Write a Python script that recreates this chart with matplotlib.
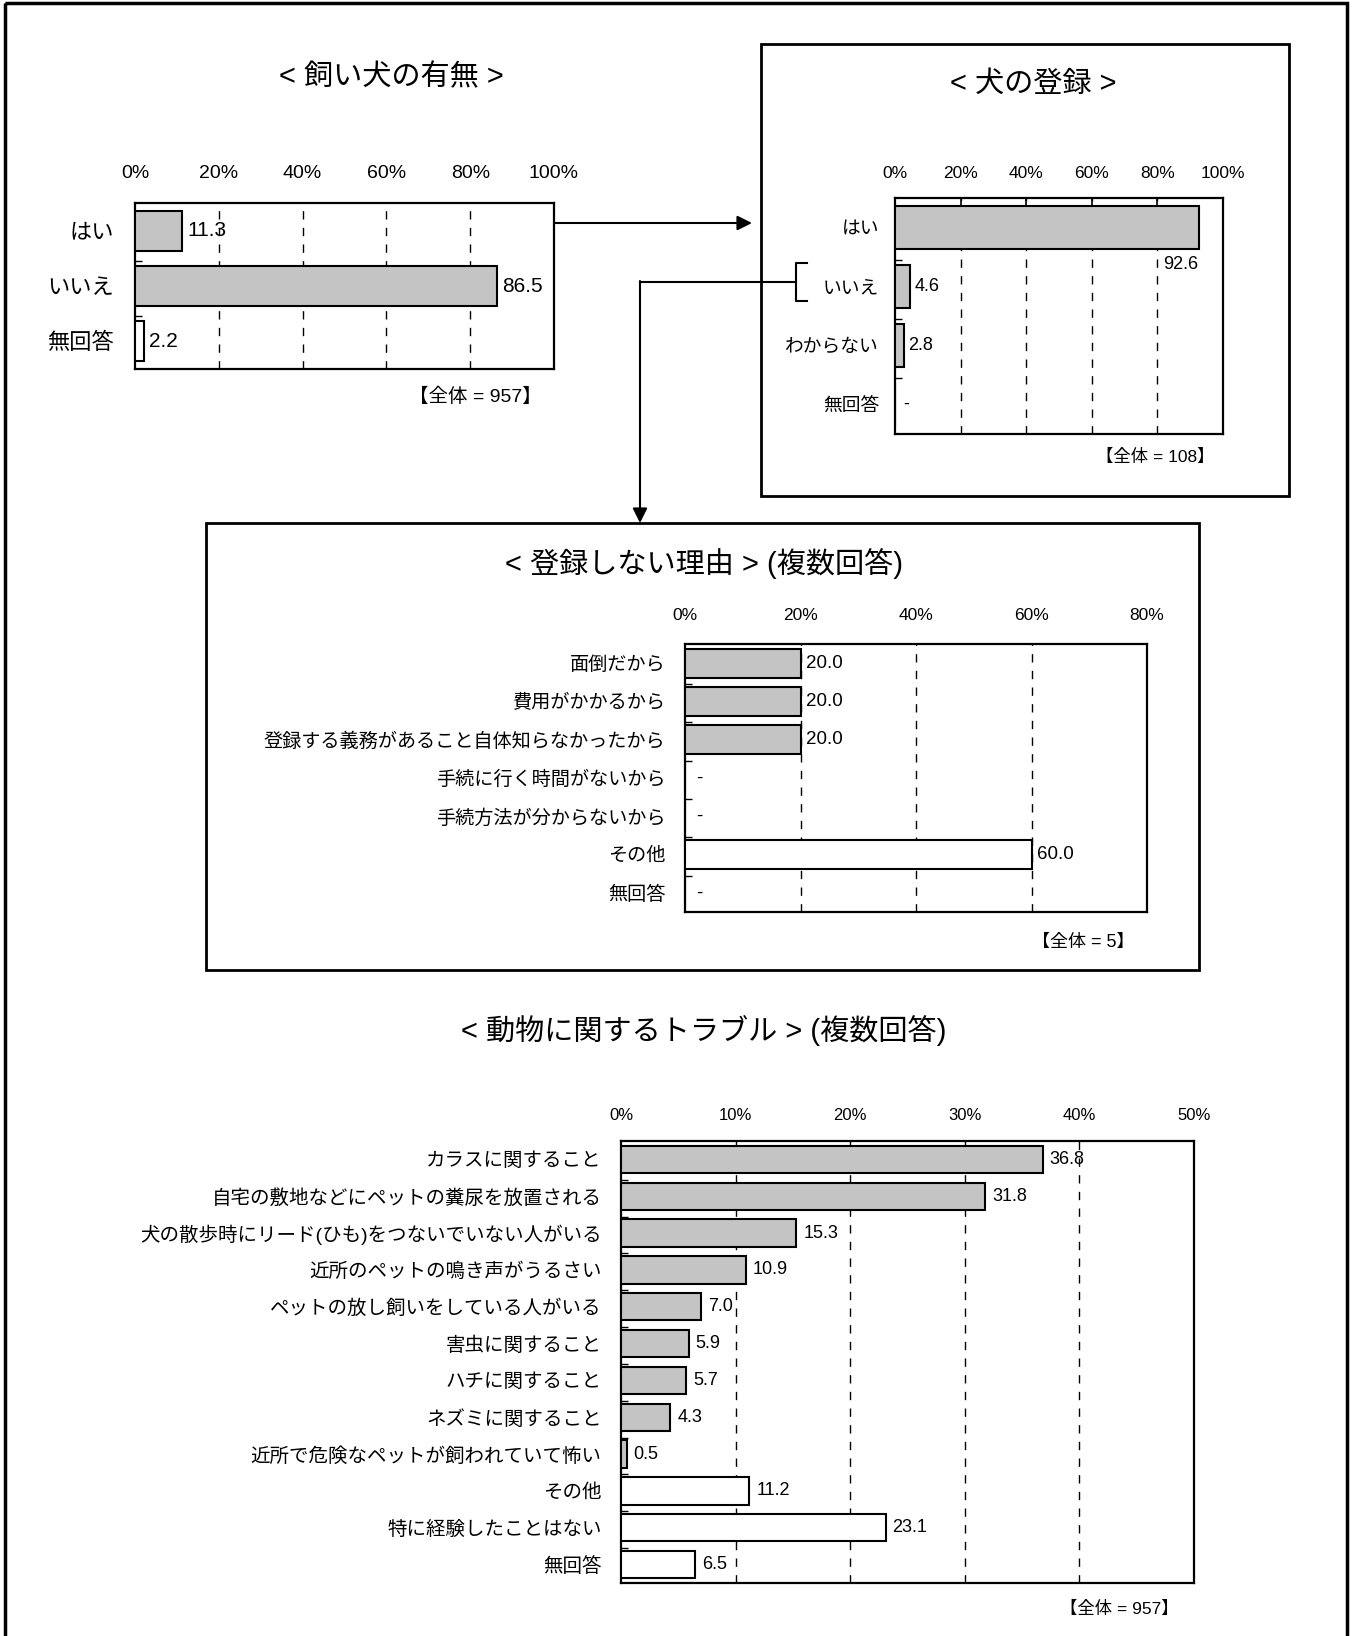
import matplotlib
matplotlib.use("Agg")
import matplotlib.pyplot as plt
from matplotlib.patches import Rectangle

plt.rcParams["font.family"] = ["Liberation Sans", "Noto Sans CJK JP"]

# ---- data ----
own_labels = ["はい", "いいえ", "無回答"]
own_values = [11.3, 86.5, 2.2]
own_total = "【全体 = 957】"

reg_labels = ["はい", "いいえ", "わからない", "無回答"]
reg_values = [92.6, 4.6, 2.8, 0.0]
reg_total = "【全体 = 108】"

why_labels = ["面倒だから", "費用がかかるから", "登録する義務があること自体知らなかったから",
              "手続に行く時間がないから", "手続方法が分からないから", "その他", "無回答"]
why_values = [20.0, 20.0, 20.0, 0.0, 0.0, 60.0, 0.0]
why_total = "【全体 = 5】"

trouble_labels = ["カラスに関すること", "自宅の敷地などにペットの糞尿を放置される",
                  "犬の散歩時にリード(ひも)をつないでいない人がいる", "近所のペットの鳴き声がうるさい",
                  "ペットの放し飼いをしている人がいる", "害虫に関すること", "ハチに関すること",
                  "ネズミに関すること", "近所で危険なペットが飼われていて怖い", "その他",
                  "特に経験したことはない", "無回答"]
trouble_values = [36.8, 31.8, 15.3, 10.9, 7.0, 5.9, 5.7, 4.3, 0.5, 11.2, 23.1, 6.5]
trouble_total = "【全体 = 957】"

W, H = 1356, 1636
SHADE = "#c4c4c4"

fig = plt.figure(figsize=(W / 100, H / 100), dpi=100)

# overlay in pixel coords for boxes, arrows, titles
ov = fig.add_axes([0, 0, 1, 1])
ov.set_xlim(0, W)
ov.set_ylim(H, 0)
ov.axis("off")


def px_axes(x0, y0, x1, y1):
    return fig.add_axes([x0 / W, 1 - y1 / H, (x1 - x0) / W, (y1 - y0) / H])


def bar_chart(box, labels, values, xmax, step, n_shaded, lab_fs, tick_fs,
              lab_pad, tick_pad, top_ticks=False, bar_h=0.72):
    ax = px_axes(*box)
    n = len(labels)
    y = list(range(n))
    colors = [SHADE if i < n_shaded else "white" for i in range(n)]
    ax.barh(y, values, height=bar_h, color=colors, edgecolor="black", linewidth=1.5, zorder=3)
    ax.set_xlim(0, xmax)
    ax.set_ylim(n - 0.5, -0.5)
    ticks = list(range(0, xmax + 1, step))
    ax.set_xticks(ticks)
    ax.set_xticklabels([f"{t}%" for t in ticks], fontsize=tick_fs)
    ax.xaxis.tick_top()
    ax.tick_params(axis="x", length=5 if top_ticks else 0, direction="in", pad=tick_pad, width=1.2)
    ax.set_yticks(y)
    ax.set_yticklabels(labels, fontsize=lab_fs)
    ax.tick_params(axis="y", length=0, pad=lab_pad)
    ax.set_yticks([i + 0.55 for i in range(n - 1)], minor=True)
    ax.tick_params(axis="y", which="minor", length=5, direction="in", width=1.0)
    for t in ticks[1:-1]:
        ax.axvline(t, color="black", lw=1.0, linestyle=(0, (6, 6)), zorder=1)
    for s in ax.spines.values():
        s.set_linewidth(1.6)
    return ax


def value_labels(ax, values, xmax, fs, gap=0.012):
    for i, v in enumerate(values):
        txt = "-" if v == 0 else f"{v:.1f}"
        ax.text(v + xmax * (gap + (0.012 if v == 0 else 0)), i, txt, fontsize=fs,
                va="center", ha="left", zorder=4)


# ---- outer border ----
ov.add_patch(Rectangle((5, 3), 1342, 1660, fill=False, lw=2.5, edgecolor="black"))

# ---- chart 1: 飼い犬の有無 ----
ax1 = bar_chart((135, 203, 554, 369), own_labels, own_values, 100, 20, 2,
                16, 14, 15, 15, bar_h=0.72)
value_labels(ax1, own_values, 100, 15)
ov.text(391, 77, "< 飼い犬の有無 >", fontsize=21, ha="center", va="center")
ov.text(542, 397, own_total, fontsize=14, ha="right", va="center")

# ---- chart 2: 犬の登録 ----
ov.add_patch(Rectangle((761, 44), 528, 452, fill=False, lw=2, edgecolor="black"))
ax2 = bar_chart((895, 198, 1223, 434), reg_labels, reg_values, 100, 20, 3,
                13.5, 12.5, 11.5, 12, top_ticks=True, bar_h=0.72)
for i, v in enumerate(reg_values):
    if i == 0:
        ax2.text(v, i + 0.62, f"{v:.1f}", fontsize=13, ha="right", va="center")
    else:
        txt = "-" if v == 0 else f"{v:.1f}"
        ax2.text(v + (2.4 if v == 0 else 1.3), i, txt, fontsize=13, ha="left", va="center")
ov.text(1033, 84, "< 犬の登録 >", fontsize=21, ha="center", va="center")
ov.text(1215, 457, reg_total, fontsize=12.5, ha="right", va="center")

# bracket + connector arrows
ov.plot([807, 796, 796, 807], [263, 263, 301, 301], color="black", lw=1.5)
ov.plot([796, 640], [282, 282], color="black", lw=1.5)
ov.annotate("", xy=(640, 523), xytext=(640, 281),
            arrowprops=dict(arrowstyle="-|>", color="black", lw=1.5, mutation_scale=22,
                            shrinkA=0, shrinkB=0))
ov.annotate("", xy=(752, 223), xytext=(554, 223),
            arrowprops=dict(arrowstyle="-|>", color="black", lw=1.5, mutation_scale=22,
                            shrinkA=0, shrinkB=0))

# ---- chart 3: 登録しない理由 ----
ov.add_patch(Rectangle((206, 523), 993, 447, fill=False, lw=2, edgecolor="black"))
ax3 = bar_chart((685, 644, 1147, 912), why_labels, why_values, 80, 20, 3,
                13.8, 12.5, 14, 15, bar_h=0.76)
value_labels(ax3, why_values, 80, 13.5)
ov.text(704, 564, "< 登録しない理由 > (複数回答)", fontsize=21, ha="center", va="center")
ov.text(1135, 942, why_total, fontsize=13, ha="right", va="center")

# ---- chart 4: 動物に関するトラブル ----
ax4 = bar_chart((621, 1141, 1194, 1583), trouble_labels, trouble_values, 50, 10, 9,
                14, 12, 14, 13, bar_h=0.74)
value_labels(ax4, trouble_values, 50, 13)
ov.text(704, 1030, "< 動物に関するトラブル > (複数回答)", fontsize=21, ha="center", va="center")
ov.text(1179, 1609, trouble_total, fontsize=12.5, ha="right", va="center")

fig.savefig("out.png", dpi=100)
